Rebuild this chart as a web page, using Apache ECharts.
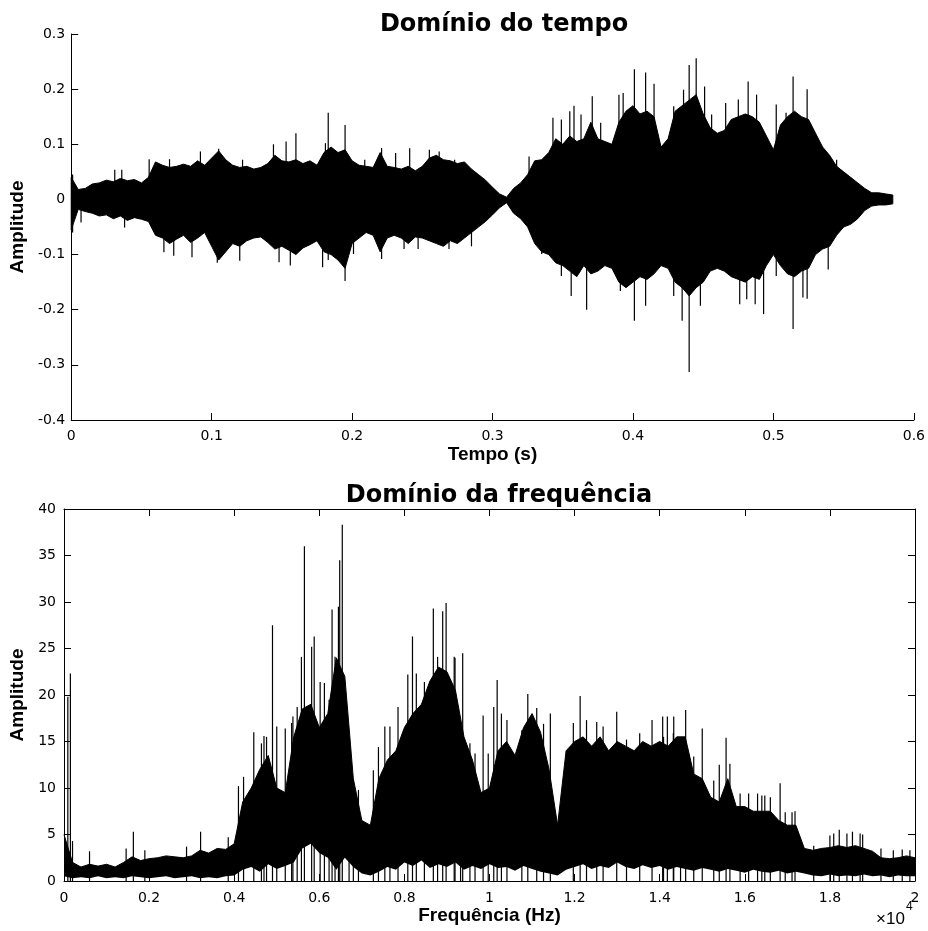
<!DOCTYPE html>
<html>
<head>
<meta charset="utf-8">
<script src="https://cdn.jsdelivr.net/npm/echarts@6/dist/echarts.min.js"></script>
<style>
  html, body { margin: 0; padding: 0; background: #fff; }
  #chart { width: 928px; height: 931px; }
</style>
</head>
<body>
<div id="chart"></div>
<script>
// ---- Domínio do tempo: envelope read every 5 ms ----
const tempo = [0,0.005,0.01,0.015,0.02,0.025,0.03,0.035,0.04,0.045,0.05,0.055,0.06,0.065,0.07,0.075,0.08,0.085,0.09,0.095,
  0.1,0.105,0.11,0.115,0.12,0.125,0.13,0.135,0.14,0.145,0.15,0.155,0.16,0.165,0.17,0.175,0.18,0.185,0.19,0.195,
  0.2,0.205,0.21,0.215,0.22,0.225,0.23,0.235,0.24,0.245,0.25,0.255,0.26,0.265,0.27,0.275,0.28,0.285,0.29,0.295,
  0.3,0.305,0.31,0.315,0.32,0.325,0.33,0.335,0.34,0.345,0.35,0.355,0.36,0.365,0.37,0.375,0.38,0.385,0.39,0.395,
  0.4,0.405,0.41,0.415,0.42,0.425,0.43,0.435,0.44,0.445,0.45,0.455,0.46,0.465,0.47,0.475,0.48,0.485,0.49,0.495,
  0.5,0.505,0.51,0.515,0.52,0.525,0.53,0.535,0.54,0.545,0.55,0.555,0.56,0.565,0.57,0.575,0.58,0.585];
const tempoMax = [0.040,0.018,0.020,0.028,0.030,0.035,0.032,0.038,0.034,0.036,0.030,0.040,0.068,0.062,0.058,0.060,0.064,0.060,0.070,0.062,
  0.075,0.088,0.072,0.062,0.058,0.060,0.055,0.058,0.065,0.080,0.070,0.068,0.072,0.065,0.070,0.062,0.085,0.095,0.085,0.090,
  0.070,0.062,0.060,0.058,0.085,0.060,0.058,0.055,0.060,0.052,0.060,0.075,0.080,0.072,0.070,0.065,0.068,0.055,0.045,0.035,
  0.022,0.010,0.004,0.020,0.030,0.045,0.070,0.072,0.085,0.110,0.100,0.115,0.105,0.110,0.140,0.110,0.105,0.100,0.140,0.160,
  0.170,0.155,0.160,0.150,0.095,0.110,0.160,0.170,0.180,0.190,0.155,0.130,0.120,0.125,0.145,0.150,0.155,0.150,0.140,0.115,
  0.090,0.135,0.150,0.160,0.150,0.145,0.120,0.095,0.080,0.060,0.050,0.040,0.030,0.020,0.012,0.012,0.010,0.008];
const tempoMin = [-0.055,-0.018,-0.022,-0.025,-0.030,-0.028,-0.035,-0.030,-0.038,-0.033,-0.036,-0.040,-0.065,-0.070,-0.080,-0.072,-0.065,-0.078,-0.070,-0.060,
  -0.085,-0.110,-0.095,-0.080,-0.085,-0.075,-0.070,-0.068,-0.078,-0.090,-0.085,-0.092,-0.100,-0.088,-0.082,-0.075,-0.095,-0.100,-0.110,-0.125,
  -0.080,-0.070,-0.060,-0.065,-0.095,-0.070,-0.065,-0.070,-0.080,-0.068,-0.070,-0.075,-0.080,-0.085,-0.075,-0.080,-0.070,-0.060,-0.050,-0.040,
  -0.028,-0.015,-0.006,-0.025,-0.035,-0.050,-0.080,-0.095,-0.100,-0.115,-0.120,-0.130,-0.140,-0.120,-0.135,-0.130,-0.120,-0.125,-0.150,-0.160,
  -0.150,-0.140,-0.145,-0.135,-0.120,-0.125,-0.150,-0.160,-0.175,-0.160,-0.150,-0.130,-0.125,-0.130,-0.140,-0.145,-0.150,-0.140,-0.145,-0.120,
  -0.100,-0.120,-0.135,-0.140,-0.130,-0.125,-0.100,-0.090,-0.085,-0.065,-0.050,-0.045,-0.035,-0.020,-0.012,-0.010,-0.010,-0.008];
// isolated spikes [tempo, amplitude]
const tempoPicos = [[0.001,0.045],[0.031,0.054],[0.036,0.054],[0.0555,0.073],[0.070,0.073],[0.092,0.087],[0.105,0.092],
  [0.122,0.072],[0.144,0.100],[0.153,0.105],[0.160,0.120],[0.181,0.102],[0.183,0.157],[0.195,0.135],[0.197,0.081],
  [0.209,0.072],[0.221,0.093],[0.231,0.084],[0.241,0.093],[0.255,0.090],[0.262,0.087],[0.273,0.072],[0.326,0.078],
  [0.343,0.148],[0.349,0.145],[0.355,0.160],[0.358,0.170],[0.363,0.154],[0.371,0.187],[0.377,0.139],[0.390,0.190],
  [0.393,0.193],[0.401,0.236],[0.409,0.230],[0.415,0.210],[0.429,0.169],[0.436,0.199],[0.440,0.244],[0.445,0.256],
  [0.451,0.205],[0.456,0.154],[0.466,0.175],[0.475,0.181],[0.482,0.214],[0.488,0.190],[0.502,0.172],[0.509,0.157],
  [0.514,0.223],[0.524,0.200],[0.545,0.072],
  [0.001,-0.060],[0.007,-0.042],[0.038,-0.051],[0.066,-0.096],[0.073,-0.102],[0.086,-0.105],[0.104,-0.115],
  [0.120,-0.111],[0.148,-0.114],[0.156,-0.120],[0.179,-0.123],[0.183,-0.110],[0.188,-0.102],[0.195,-0.148],
  [0.201,-0.099],[0.221,-0.108],[0.237,-0.090],[0.247,-0.090],[0.269,-0.090],[0.285,-0.085],[0.335,-0.099],
  [0.349,-0.139],[0.356,-0.175],[0.367,-0.200],[0.383,-0.120],[0.391,-0.166],[0.401,-0.220],[0.409,-0.193],
  [0.429,-0.175],[0.435,-0.220],[0.440,-0.313],[0.448,-0.193],[0.476,-0.190],[0.481,-0.181],[0.487,-0.190],
  [0.493,-0.208],[0.502,-0.139],[0.514,-0.235],[0.521,-0.178],[0.524,-0.180],[0.539,-0.127],[0.555,-0.042]];

// ---- Domínio da frequência (x10^4 Hz), envelope every 200 Hz ----
const freq = [0,0.02,0.04,0.06,0.08,0.1,0.12,0.14,0.16,0.18,0.2,0.22,0.24,0.26,0.28,0.3,0.32,0.34,0.36,0.38,
  0.4,0.42,0.44,0.46,0.48,0.5,0.52,0.54,0.56,0.58,0.6,0.62,0.64,0.66,0.68,0.7,0.72,0.74,0.76,0.78,
  0.8,0.82,0.84,0.86,0.88,0.9,0.92,0.94,0.96,0.98,1,1.02,1.04,1.06,1.08,1.1,1.12,1.14,1.16,1.18,
  1.2,1.22,1.24,1.26,1.28,1.3,1.32,1.34,1.36,1.38,1.4,1.42,1.44,1.46,1.48,1.5,1.52,1.54,1.56,1.58,
  1.6,1.62,1.64,1.66,1.68,1.7,1.72,1.74,1.76,1.78,1.8,1.82,1.84,1.86,1.88,1.9,1.92,1.94,1.96,1.98,2];
const freqMax = [5.0,2.0,1.5,1.8,1.6,1.8,1.5,2.0,2.6,2.2,2.4,2.5,2.7,2.6,2.5,2.7,3.3,3.0,3.5,3.4,
  4.0,8.5,10.0,12.0,13.5,10.0,9.5,15.5,18.5,19.0,16.5,18.0,24.0,22.0,11.0,6.5,6.0,11.0,13.0,14.0,
  16.5,18.0,19.0,21.5,23.0,22.5,20.5,15.5,13.0,9.5,10.0,14.0,15.0,13.5,16.5,18.0,16.0,12.0,6.0,14.0,
  15.0,15.5,14.5,15.5,14.0,15.0,14.5,14.0,15.0,14.5,15.0,14.5,15.5,15.5,11.5,11.0,9.0,8.5,11.0,8.0,
  8.0,7.5,7.5,7.5,6.5,6.0,6.0,3.5,3.3,3.5,3.6,3.8,3.6,3.8,3.5,3.2,2.5,2.4,2.5,2.7,2.5];
const freqMin = [0.5,0.3,0.4,0.3,0.5,0.3,0.4,0.3,0.5,0.4,0.3,0.4,0.5,0.3,0.4,0.5,0.3,0.4,0.3,0.5,0.6,
  1.2,1.5,1.0,1.8,1.3,1.6,2.0,
  3.5,4.0,3.0,2.5,1.2,2.5,
  1.5,0.8,0.6,1.0,
  1.5,1.2,2.0,1.6,2.2,1.4,1.8,1.5,2.0,1.2,1.6,1.3,1.8,1.4,1.5,1.1,1.6,1.3,1.0,0.8,0.6,
  1.2,1.5,1.8,1.3,1.6,1.4,2.0,1.5,1.3,1.7,1.4,1.6,1.2,1.5,1.3,1.1,1.4,1.2,1.0,1.3,1.1,0.9,1.2,1.0,0.9,1.1,0.8,1.0,0.8,
  0.6,0.5,0.7,0.5,0.6,0.5,0.7,0.5,0.6,0.4,0.6,0.5,0.5];
const freqPicos = [[0.009,19.8],[0.015,22.3],[0.02,4.3],[0.06,3.2],[0.146,3.5],[0.163,5.3],[0.19,3.3],[0.288,3.7],
  [0.321,5.3],[0.386,4.7],[0.41,10.2],[0.422,11.2],[0.446,16.0],[0.464,14.8],[0.47,15.6],[0.476,15.5],[0.49,27.5],
  [0.50,16.6],[0.52,16.4],[0.535,17.0],[0.538,17.7],[0.548,18.7],[0.558,24.1],[0.565,36.0],[0.582,25.2],[0.588,26.3],
  [0.602,21.4],[0.612,21.3],[0.623,19.5],[0.63,29.2],[0.637,24.1],[0.645,29.5],[0.648,34.5],[0.654,38.3],[0.67,14.1],
  [0.68,10.8],[0.692,9.8],[0.727,11.9],[0.739,14.4],[0.754,16.6],[0.766,16.6],[0.785,18.7],[0.808,22.2],[0.819,26.3],
  [0.828,22.3],[0.847,21.4],[0.868,29.3],[0.878,24.1],[0.890,29.0],[0.898,29.9],[0.917,24.1],[0.919,24.0],[0.932,16.6],
  [0.937,24.5],[0.954,14.8],[0.966,13.7],[0.985,17.8],[0.997,13.7],[1.01,18.7],[1.018,21.6],[1.028,18.0],[1.041,17.3],
  [1.076,16.2],[1.09,20.1],[1.111,18.6],[1.127,16.9],[1.143,18.0],[1.197,17.0],[1.213,19.9],[1.228,17.3],[1.252,17.1],
  [1.267,16.6],[1.299,18.2],[1.322,15.2],[1.353,15.9],[1.382,17.3],[1.407,17.7],[1.409,15.5],[1.418,17.7],[1.432,15.9],
  [1.433,17.7],[1.449,14.4],[1.461,18.4],[1.48,13.4],[1.50,16.4],[1.527,10.8],[1.54,12.5],[1.556,15.4],[1.565,12.6],
  [1.589,9.4],[1.609,9.4],[1.63,9.4],[1.64,9.2],[1.647,9.2],[1.66,9.0],[1.683,10.5],[1.695,7.4],[1.711,7.4],[1.718,7.5],
  [1.762,3.8],[1.80,4.9],[1.809,5.1],[1.822,5.5],[1.84,5.1],[1.853,5.3],[1.871,5.1],[1.877,5.0],[1.92,3.5],[1.949,3.3],
  [1.97,3.4],[1.988,3.3]];

const chart = echarts.init(document.getElementById('chart'));

const tickFont = {color: '#000', fontFamily: 'DejaVu Sans', fontSize: 14};
const nameFont = {color: '#000', fontFamily: 'Liberation Sans', fontSize: 19, fontWeight: 'bold'};
const blackLine = {onZero: false, lineStyle: {color: '#000', width: 1}};
const inTick = {show: true, inside: true, length: 7, lineStyle: {color: '#000'}};

function spikeItem(params, api) {
  const p0 = api.coord([api.value(0), 0]);
  const p1 = api.coord([api.value(0), api.value(1)]);
  return {
    type: 'line',
    shape: {x1: p0[0], y1: p0[1], x2: p1[0], y2: p1[1]},
    style: {stroke: '#000', lineWidth: 1.2}
  };
}

// one filled polygon: upper envelope forward, lower envelope back
function makeBand(xs, hi, lo, fill) {
  return function (params, api) {
    if (params.dataIndex !== 0) return null;
    const pts = [];
    for (let i = 0; i < xs.length; i++) pts.push(api.coord([xs[i], hi[i]]));
    for (let i = xs.length - 1; i >= 0; i--) pts.push(api.coord([xs[i], lo[i]]));
    return {type: 'polygon', shape: {points: pts}, style: {fill: fill, stroke: fill, lineWidth: 1}};
  };
}

const option = {
  animation: false,
  backgroundColor: '#fff',
  title: [
    {text: 'Domínio do tempo', left: 499, top: 8, textAlign: 'center',
      textStyle: {fontFamily: 'DejaVu Sans', fontWeight: 'bold', fontSize: 24, color: '#000'}},
    {text: 'Domínio da frequência', left: 494, top: 479, textAlign: 'center',
      textStyle: {fontFamily: 'DejaVu Sans', fontWeight: 'bold', fontSize: 24, color: '#000'}}
  ],
  grid: [
    {left: 68, top: 34, width: 846, height: 386},
    {left: 64, top: 509, width: 851, height: 372}
  ],
  xAxis: [
    {gridIndex: 0, type: 'value', min: 0, max: 0.6, interval: 0.1, z: 5,
      name: 'Tempo (s)', nameLocation: 'middle', nameGap: 25, nameTextStyle: nameFont,
      axisLine: blackLine, axisTick: inTick,
      axisLabel: Object.assign({margin: 9}, tickFont), splitLine: {show: false}},
    {gridIndex: 1, type: 'value', min: 0, max: 2, interval: 0.2, z: 5,
      name: 'Frequência (Hz)', nameLocation: 'middle', nameGap: 25, nameTextStyle: nameFont,
      axisLine: blackLine, axisTick: inTick,
      axisLabel: Object.assign({margin: 10}, tickFont), splitLine: {show: false}},
    {gridIndex: 1, type: 'value', position: 'top', min: 0, max: 2, interval: 0.2, z: 5,
      axisLine: blackLine, axisTick: inTick,
      axisLabel: {show: false}, splitLine: {show: false}}
  ],
  yAxis: [
    {gridIndex: 0, type: 'value', min: -0.4, max: 0.3, interval: 0.1, z: 5,
      name: 'Amplitude', nameLocation: 'middle', nameGap: 34, nameTextStyle: nameFont,
      axisLine: Object.assign({show: true}, blackLine), axisTick: inTick,
      axisLabel: Object.assign({margin: 6}, tickFont), splitLine: {show: false}},
    {gridIndex: 1, type: 'value', min: 0, max: 40, interval: 5, z: 5,
      name: 'Amplitude', nameLocation: 'middle', nameGap: 30, nameTextStyle: nameFont,
      axisLine: Object.assign({show: true}, blackLine), axisTick: inTick,
      axisLabel: Object.assign({margin: 8}, tickFont), splitLine: {show: false}},
    {gridIndex: 1, type: 'value', position: 'right', min: 0, max: 40, interval: 5, z: 5,
      axisLine: Object.assign({show: true}, blackLine), axisTick: inTick,
      axisLabel: {show: false}, splitLine: {show: false}}
  ],
  graphic: [
    {type: 'text', left: 876, top: 911, style: {text: '×10', font: '17px "Liberation Sans"', fill: '#000'}},
    {type: 'text', left: 906, top: 901, style: {text: '4', font: '12px "Liberation Sans"', fill: '#000'}}
  ],
  series: [
    {type: 'custom', xAxisIndex: 0, yAxisIndex: 0, z: 2,
      data: tempo.map((t, i) => [t, tempoMax[i], tempoMin[i]]),
      encode: {x: 0, y: [1, 2]}, renderItem: makeBand(tempo, tempoMax, tempoMin, '#000')},
    {type: 'custom', xAxisIndex: 0, yAxisIndex: 0, z: 3, data: tempoPicos,
      encode: {x: 0, y: 1}, renderItem: spikeItem},
    {type: 'line', xAxisIndex: 1, yAxisIndex: 1, symbol: 'none', z: 2,
      data: freq.map((f, i) => [f, freqMax[i]]),
      lineStyle: {color: '#000', width: 1}, areaStyle: {color: '#000', opacity: 1}},
    {type: 'line', xAxisIndex: 1, yAxisIndex: 1, symbol: 'none', z: 3,
      data: freq.map((f, i) => [f, freqMin[i]]),
      lineStyle: {color: '#fff', width: 0}, areaStyle: {color: '#fff', opacity: 1}},
    {type: 'custom', xAxisIndex: 1, yAxisIndex: 1, z: 4, data: freqPicos,
      encode: {x: 0, y: 1}, renderItem: spikeItem}
  ]
};

chart.setOption(option);
</script>
</body>
</html>
